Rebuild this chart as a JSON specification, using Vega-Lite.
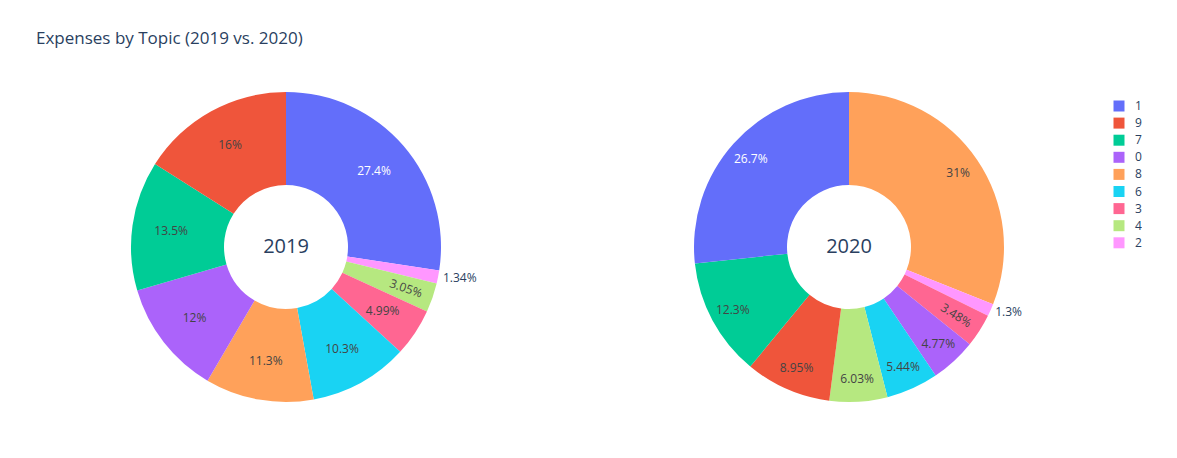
{
  "$schema": "https://vega.github.io/schema/vega-lite/v6.json",
  "padding": {"left": 36, "top": 30, "right": 0, "bottom": 0},
  "background": "white",
  "title": {"text": "Expenses by Topic (2019 vs. 2020)", "anchor": "start", "frame": "group", "fontSize": 17, "font": "Open Sans", "fontWeight": "normal", "color": "#2a3f5f", "offset": 19},
  "data": {"values": [
    {"year": "2019", "topic": "1", "pct": 27.4, "k": 1},
    {"year": "2019", "topic": "2", "pct": 1.34, "k": 2},
    {"year": "2019", "topic": "4", "pct": 3.05, "k": 3},
    {"year": "2019", "topic": "3", "pct": 4.99, "k": 4},
    {"year": "2019", "topic": "6", "pct": 10.3, "k": 5},
    {"year": "2019", "topic": "8", "pct": 11.3, "k": 6},
    {"year": "2019", "topic": "0", "pct": 12, "k": 7},
    {"year": "2019", "topic": "7", "pct": 13.5, "k": 8},
    {"year": "2019", "topic": "9", "pct": 16, "k": 9},
    {"year": "2020", "topic": "8", "pct": 31, "k": 1},
    {"year": "2020", "topic": "2", "pct": 1.3, "k": 2},
    {"year": "2020", "topic": "3", "pct": 3.48, "k": 3},
    {"year": "2020", "topic": "0", "pct": 4.77, "k": 4},
    {"year": "2020", "topic": "6", "pct": 5.44, "k": 5},
    {"year": "2020", "topic": "4", "pct": 6.03, "k": 6},
    {"year": "2020", "topic": "9", "pct": 8.95, "k": 7},
    {"year": "2020", "topic": "7", "pct": 12.3, "k": 8},
    {"year": "2020", "topic": "1", "pct": 26.7, "k": 9}
  ]},
  "facet": {"column": {"field": "year", "type": "ordinal", "header": {"title": null, "labels": false}}},
  "spacing": 63,
  "resolve": {"scale": {"theta": "independent"}},
  "spec": {
    "width": 500,
    "height": 360,
    "transform": [
      {"calculate": "format(datum.pct, '.3~r') + '%'", "as": "label"},
      {"window": [{"op": "sum", "field": "pct", "as": "cum"}], "sort": [{"field": "k", "order": "ascending"}], "groupby": ["year"]},
      {"joinaggregate": [{"op": "sum", "field": "pct", "as": "tot"}], "groupby": ["year"]},
      {"calculate": "(datum.cum - datum.pct / 2) / datum.tot * 360 - 90", "as": "ang"}
    ],
    "encoding": {
      "theta": {"field": "pct", "type": "quantitative", "stack": true},
      "order": {"field": "k", "type": "quantitative"}
    },
    "layer": [
      {
        "mark": {"type": "arc", "outerRadius": 155, "innerRadius": 62},
        "encoding": {
          "color": {"field": "topic", "type": "nominal",
            "scale": {"domain": ["1", "9", "7", "0", "8", "6", "3", "4", "2"],
                      "range": ["#636efa", "#EF553B", "#00cc96", "#ab63fa", "#FFA15A", "#19d3f3", "#FF6692", "#B6E880", "#FF97FF"]},
            "legend": {"title": null, "orient": "none", "legendX": 1077, "legendY": 33, "symbolType": "square", "symbolSize": 121, "symbolStrokeWidth": 0, "symbolOpacity": 1, "labelFont": "Open Sans", "labelFontSize": 12, "labelColor": "#2a3f5f", "labelOffset": 10, "rowPadding": 5.1}
          }
        }
      },
      {
        "mark": {"type": "text", "font": "Open Sans", "fontSize": 12},
        "encoding": {
          "radius": {"field": "year", "type": "ordinal", "scale": {"type": "point", "domain": ["2019", "2020"], "range": [116, 132], "padding": 0}, "legend": null},
          "text": {"condition": {"test": "datum.pct >= 4", "field": "label"}, "value": ""},
          "color": {"condition": {"test": "datum.topic === '1'", "value": "#ffffff"}, "value": "#444444"}
        }
      },
      {
        "mark": {"type": "text", "radius": 127, "font": "Open Sans", "fontSize": 12},
        "encoding": {
          "text": {"condition": {"test": "datum.pct >= 2 && datum.pct < 4", "field": "label"}, "value": ""},
          "angle": {"field": "ang", "type": "quantitative", "scale": null},
          "color": {"value": "#444444"}
        }
      },
      {
        "mark": {"type": "text", "radius": 160, "align": "left", "baseline": "middle", "font": "Open Sans", "fontSize": 12},
        "encoding": {
          "text": {"condition": {"test": "datum.pct < 2", "field": "label"}, "value": ""},
          "color": {"value": "#2a3f5f"}
        }
      },
      {
        "transform": [{"aggregate": [{"op": "count", "as": "n"}], "groupby": ["year"]}],
        "mark": {"type": "text", "font": "Open Sans", "fontSize": 20, "color": "#2a3f5f", "baseline": "middle", "align": "center"},
        "encoding": {
          "theta": null,
          "order": null,
          "text": {"field": "year", "type": "nominal"}
        }
      }
    ]
  },
  "config": {"view": {"stroke": null}}
}
